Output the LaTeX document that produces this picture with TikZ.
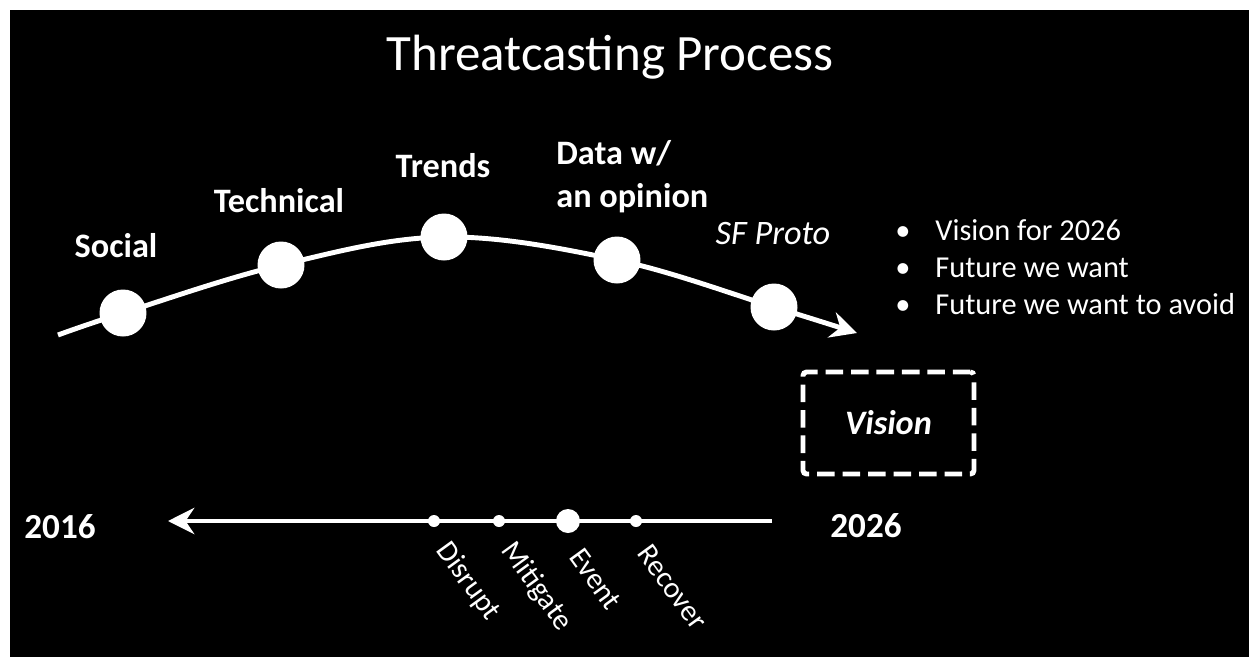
\documentclass[tikz,border=0pt]{standalone}
\usepackage{fontspec}
\setmainfont{Carlito}
\usetikzlibrary{arrows.meta}

\begin{document}
\begin{tikzpicture}[x=0.02cm, y=-0.02cm,
    title/.style = {text=white, font=\fontsize{29}{34}\selectfont, anchor=base, inner sep=0pt},
    lbl/.style = {text=white, font=\fontsize{19.5}{23}\selectfont\bfseries, anchor=base, inner sep=0pt},
    phase/.style = {circle, fill=white, minimum size=0.94cm, inner sep=0pt},
    tickdot/.style = {circle, fill=white, minimum size=0.24cm, inner sep=0pt},
    eventdot/.style = {circle, fill=white, minimum size=0.48cm, inner sep=0pt},
    ticklbl/.style = {text=white, font=\fontsize{17}{20}\selectfont, anchor=base west, rotate=-54, inner sep=0pt},
    bullet/.style = {text=white, font=\fontsize{17.3}{20}\selectfont, anchor=base west, inner sep=0pt},
    curve/.style = {draw=white, line width=2.8pt, -{Stealth[length=15pt, width=15pt, inset=5pt]}},
    timeline/.style = {draw=white, line width=2.3pt, -{Stealth[length=15pt, width=15pt, inset=5pt]}},
    visionbox/.style = {rectangle, draw=white, line width=2.8pt, dash pattern=on 10pt off 4.5pt, rounded corners=2pt, minimum width=3.42cm, minimum height=2.04cm, text=white, font=\fontsize{19.5}{23}\selectfont\bfseries\itshape}]
    \useasboundingbox (0,0) rectangle (1249,657);
    \fill[white] (0,0) rectangle (1249,657);
    \fill[black] (10,10) rectangle (1249,657);

    \draw (610,70) node[title] (title) {Threatcasting Process};

    \draw (58,335) coordinate (curve-start);
    \draw (857,333) coordinate (curve-end);
    \draw (123,313) node[phase] (social) {};
    \draw (281,265) node[phase] (technical) {};
    \draw (444,237) node[phase] (trends) {};
    \draw (617,260) node[phase] (data) {};
    \draw (774,307) node[phase] (proto) {};
    \draw[curve] plot[smooth, tension=0.6] coordinates {(curve-start) (social.center) (technical.center) (trends.center) (data.center) (proto.center) (curve-end)};

    \draw (116,257) node[lbl] (social-lbl) {Social};
    \draw (279,212) node[lbl] (technical-lbl) {Technical};
    \draw (443,177) node[lbl] (trends-lbl) {Trends};
    \draw (556,177) node[lbl, anchor=west, align=left, font=\fontsize{19.5}{24.5}\selectfont\bfseries] (data-lbl) {Data w/\\an opinion};
    \draw (773,244) node[lbl, font=\fontsize{19.5}{23}\selectfont\itshape] (proto-lbl) {SF Proto};

    \foreach \txt [count=\i] in {Vision for 2026, Future we want, Future we want to avoid} {
        \draw (895,203+37*\i) node[bullet] (bullet-\i) {\textbullet};
        \draw (935,203+37*\i) node[bullet] (item-\i) {\txt};
    }

    \draw (888.5,423) node[visionbox] (vision) {Vision};

    \draw (772,521) coordinate (tl-east);
    \draw (168,521) coordinate (tl-west);
    \draw[timeline] (tl-east) -- (tl-west);
    \draw (60,538) node[lbl, font=\fontsize{20}{24}\selectfont\bfseries] (y2016) {2016};
    \draw (866,537) node[lbl, font=\fontsize{20}{24}\selectfont\bfseries] (y2026) {2026};

    \draw (434,521) node[tickdot] (disrupt) {};
    \draw (499,521) node[tickdot] (mitigate) {};
    \draw (568,521) node[eventdot] (event) {};
    \draw (636,521) node[tickdot] (recover) {};
    \node[ticklbl] (disrupt-lbl) at ([shift={(1,29)}]disrupt.center) {Disrupt};
    \node[ticklbl] (mitigate-lbl) at ([shift={(1,29)}]mitigate.center) {Mitigate};
    \node[ticklbl] (event-lbl) at ([shift={(0,36)}]event.center) {Event};
    \node[ticklbl] (recover-lbl) at ([shift={(0,32)}]recover.center) {Recover};
\end{tikzpicture}
\end{document}
